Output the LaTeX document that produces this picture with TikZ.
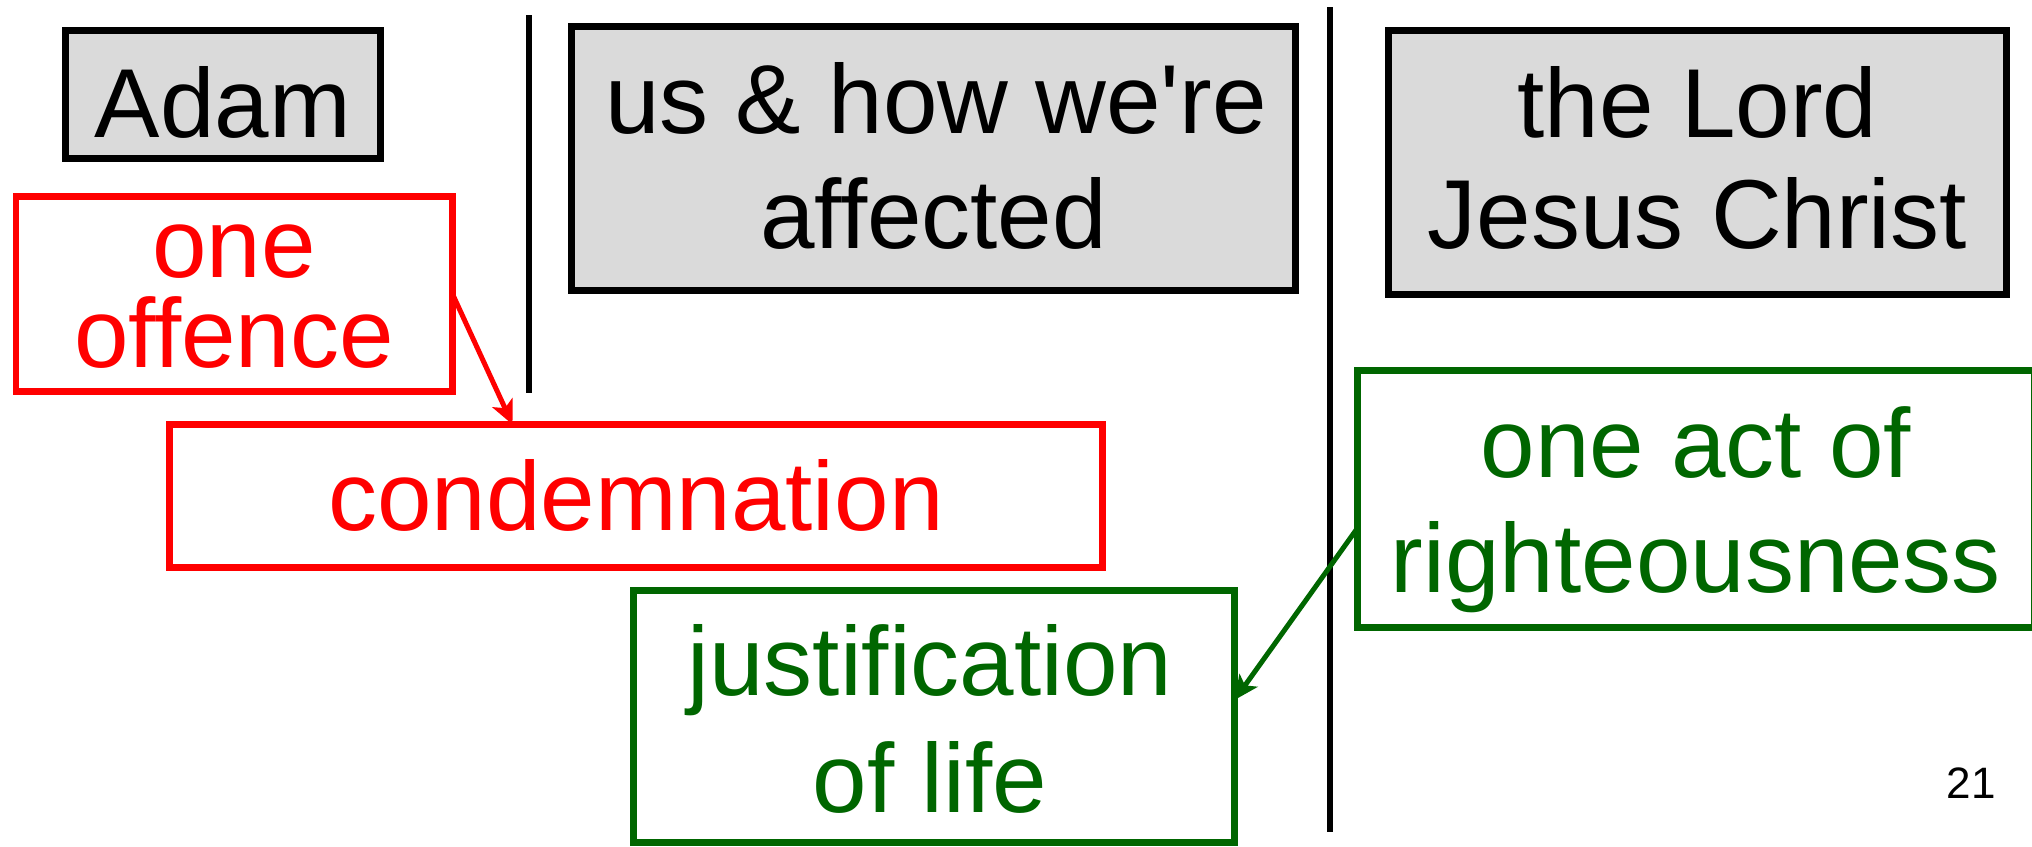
\documentclass[tikz,border=0pt]{standalone}
\usepackage{fontspec}
\setmainfont{Liberation Sans}
\usetikzlibrary{arrows.meta}
\definecolor{dgreen}{RGB}{0,102,0}
\definecolor{boxgray}{RGB}{218,218,218}
\begin{document}
\begin{tikzpicture}[x=0.5pt,y=-0.5pt,
  titlebox/.style={draw=black, line width=3.4pt, fill=boxgray, inner sep=0pt, outer sep=0pt},
  redbox/.style={draw=red, line width=3.4pt, fill=white, inner sep=0pt, outer sep=0pt},
  greenbox/.style={draw=dgreen, line width=3.4pt, fill=white, inner sep=0pt, outer sep=0pt},
  bigtext/.style={font=\fontsize{49pt}{57.5pt}\selectfont, inner sep=0pt, anchor=base},
  sepline/.style={draw=black, line width=3.4pt},
  redarrow/.style={draw=red, line width=2.5pt, -{Stealth[length=12pt,width=11pt,inset=3pt]}},
  greenarrow/.style={draw=dgreen, line width=2.5pt, -{Stealth[length=12pt,width=11pt,inset=3pt]}}
]
\useasboundingbox (0,0) rectangle (2032,846);
% separator lines
\draw[sepline] (529,15) -- (529,393);
\draw[sepline] (1330,7) -- (1330,832);
% title boxes
\node[titlebox, minimum width=157.5pt, minimum height=64pt] (adam) at (223,94.5) {};
\node[titlebox, minimum width=362pt, minimum height=132pt] (us) at (933.5,158.5) {};
\node[titlebox, minimum width=309pt, minimum height=132pt] (lord) at (1697.5,162.5) {};
% red boxes
\node[redbox, minimum width=218.25pt, minimum height=97.5pt] (off) at (234.25,294) {};
\node[redbox, minimum width=466.5pt, minimum height=71.5pt] (cond) at (636,496) {};
% green boxes
\node[greenbox, minimum width=300.5pt, minimum height=126pt] (just) at (934,716.5) {};
\node[greenbox, minimum width=338.5pt, minimum height=128.5pt] (act) at (1696,499) {};
% texts
\node[bigtext] (tadam) at (223,137) {Adam};
\node[bigtext] (tus1) at (936,133) {us \& how we\textquotesingle re};
\node[bigtext] (tus2) at (933.5,248) {affected};
\node[bigtext] (tlord1) at (1697.5,137) {the Lord};
\node[bigtext] (tlord2) at (1697.5,248) {Jesus Christ};
\node[bigtext, text=red] (toff1) at (234,277) {one};
\node[bigtext, text=red] (toff2) at (234,367) {offence};
\node[bigtext, text=red] (tcond) at (636,530) {condemnation};
\node[bigtext, text=dgreen] (tjust1) at (930,695) {justification};
\node[bigtext, text=dgreen] (tjust2) at (930,812) {of life};
\node[bigtext, text=dgreen] (tact1) at (1696,477) {one act of};
\node[bigtext, text=dgreen] (tact2) at (1696,592) {righteousness};
\node[font=\fontsize{22pt}{26pt}\selectfont, inner sep=0pt, anchor=base east] (pg) at (1996,798) {21};
% arrows
\draw[redarrow] (off.east) -- ([xshift=171.5pt]cond.north west);
\draw[greenarrow] ([yshift=-14.5pt]act.west) -- ([yshift=8.25pt]just.east);
\end{tikzpicture}
\end{document}
